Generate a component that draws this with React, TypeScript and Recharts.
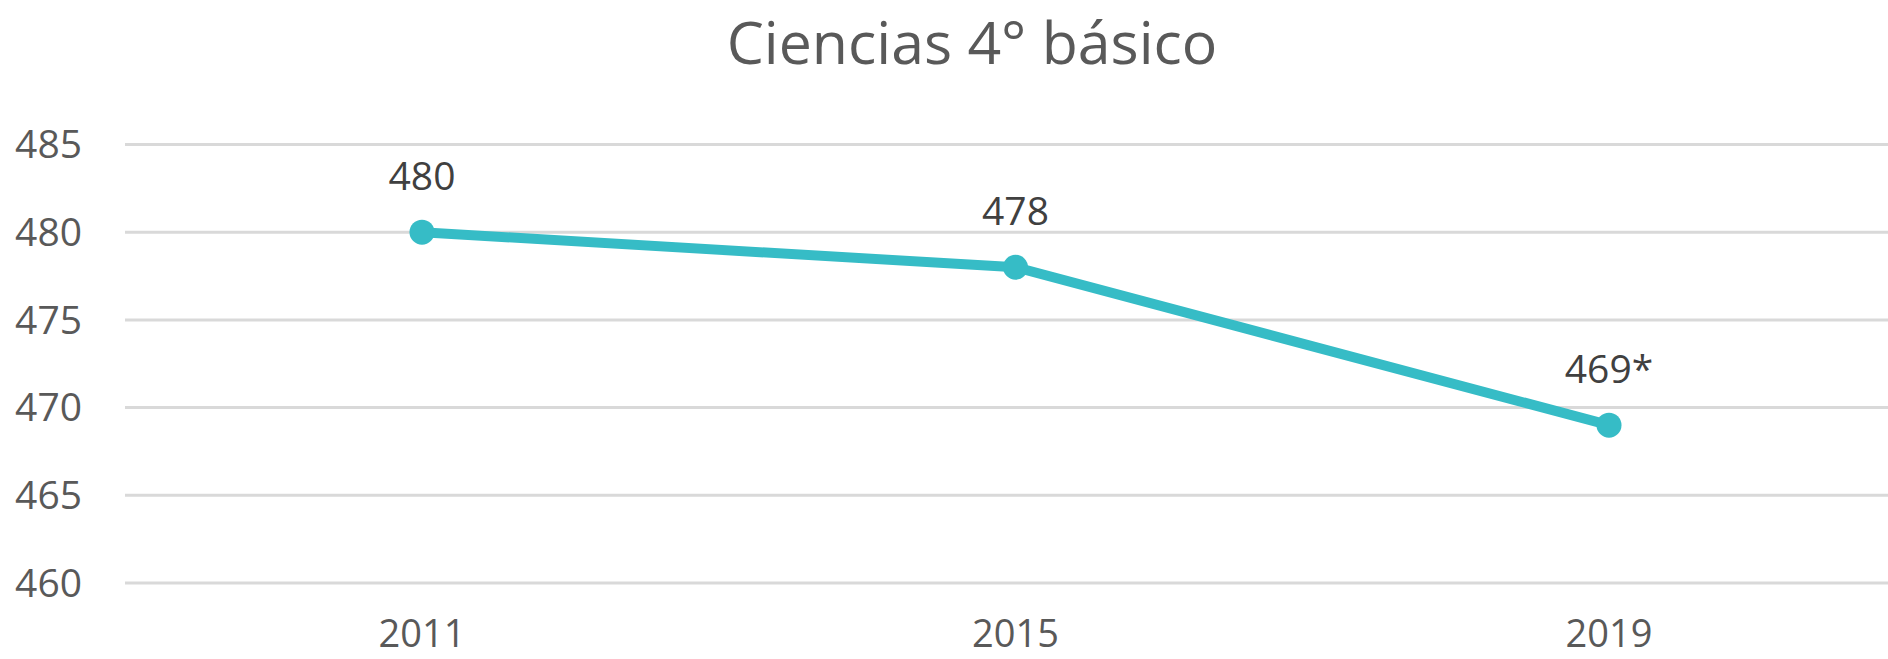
import React from "react";
import { LineChart, Line, XAxis, YAxis, CartesianGrid, LabelList } from "recharts";

const years = ["2011", "2015", "2019"];
const scores = [480, 478, 469];
const scoreLabels = ["480", "478", "469*"];
const yTicks = [460, 465, 470, 475, 480, 485];
const title = "Ciencias 4° básico";

const data = years.map((y, i) => ({ year: y, score: scores[i], label: scoreLabels[i] }));

const FONT = "'Open Sans', 'Noto Sans', sans-serif";

export default function App() {
  return (
    <div
      style={{
        position: "fixed",
        top: 0,
        left: 0,
        width: 1888,
        height: 659,
        overflow: "hidden",
        background: "#ffffff",
        fontFamily: FONT,
      }}
    >
      <div style={{ position: "absolute", left: 0, top: 0 }}>
        <LineChart
          width={1906}
          height={659}
          data={data}
          margin={{ top: 144.5, right: 0, bottom: 0, left: 0 }}
        >
          <CartesianGrid vertical={false} stroke="#D9D9D9" strokeWidth={3} />
          <XAxis
            dataKey="year"
            axisLine={false}
            tickLine={false}
            height={76}
            tickSize={0}
            tickMargin={37}
            padding={{ left: 297, right: 297 }}
            tick={{ fill: "#595959", fontSize: 38, fontFamily: FONT }}
            interval={0}
          />
          <YAxis
            domain={[460, 485]}
            ticks={yTicks}
            axisLine={false}
            tickLine={false}
            width={125}
            tickSize={0}
            tickMargin={43}
            tick={{ fill: "#595959", fontSize: 39, fontFamily: FONT }}
            interval={0}
          />
          <Line
            type="linear"
            dataKey="score"
            stroke="#36BCC6"
            strokeWidth={10}
            dot={{ r: 12.5, fill: "#36BCC6", stroke: "none" }}
            activeDot={false}
            isAnimationActive={false}
          >
            <LabelList
              dataKey="label"
              position="top"
              offset={42}
              fill="#404040"
              fontSize={39}
              fontFamily={FONT}
            />
          </Line>
        </LineChart>
      </div>
      <div
        style={{
          position: "absolute",
          left: 572,
          top: 1,
          width: 800,
          textAlign: "center",
          fontSize: 59,
          lineHeight: "normal",
          color: "#595959",
          fontFamily: FONT,
          whiteSpace: "nowrap",
        }}
      >
        {title}
      </div>
    </div>
  );
}
